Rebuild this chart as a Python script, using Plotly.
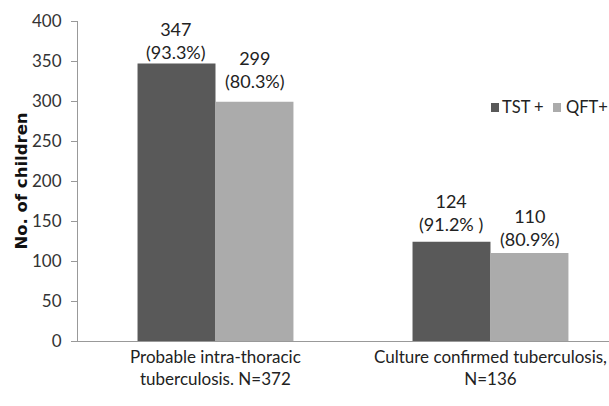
import plotly.graph_objects as go

categories = ["Probable intra-thoracic<br>tuberculosis. N=372", "Culture confirmed tuberculosis,<br>N=136"]
series_names = ["TST +", "QFT+"]
tst_values = [347, 124]
qft_values = [299, 110]
tst_labels = ["347<br>(93.3%)", "124<br>(91.2% )"]
qft_labels = ["299<br>(80.3%)", "110<br>(80.9%)"]
y_ticks = [0, 50, 100, 150, 200, 250, 300, 350, 400]

font_family = "Lato, 'Open Sans', sans-serif"
colors = ["#595959", "#ababab"]
x_pos = [0, 1]

fig = go.Figure()
fig.add_trace(go.Bar(x=x_pos, y=tst_values, name=series_names[0], marker_color=colors[0],
                     marker_line_width=0, showlegend=False))
fig.add_trace(go.Bar(x=x_pos, y=qft_values, name=series_names[1], marker_color=colors[1],
                     marker_line_width=0, showlegend=False))

# value labels above each bar (hand-offset like the original data labels)
bw = 0.284
label_shift = {0: (-2, 8), 1: (5, 1)}
for i, xv in enumerate(x_pos):
    s_tst, s_qft = label_shift[i]
    fig.add_annotation(x=xv - bw / 2, y=tst_values[i], text=tst_labels[i], showarrow=False,
                       yanchor="bottom", yshift=s_tst, font=dict(size=18, color="#222"))
    fig.add_annotation(x=xv + bw / 2, y=qft_values[i], text=qft_labels[i], showarrow=False,
                       yanchor="bottom", yshift=s_qft, font=dict(size=18, color="#222"))

# category labels under the axis
for xv, lab in zip(x_pos, categories):
    fig.add_annotation(x=xv, y=0, yref="y", text=lab, showarrow=False, yanchor="top",
                       yshift=-3, font=dict(size=17, color="#222"))

# divider tick between the two categories
fig.add_shape(type="line", x0=0.5, x1=0.5, y0=0, y1=-7, yref="y", xref="x",
              line=dict(color="#999", width=1))

# compact legend: small squares with labels (pixel positions converted to paper units)
plot_l, plot_w, plot_b, plot_h = 78, 531, 341, 320
legend_items = [(491, 499, 501, series_names[0]), (553, 561, 565, series_names[1])]
for (sx0, sx1, tx, name), col in zip(legend_items, colors):
    fig.add_shape(type="rect", xref="paper", yref="paper",
                  x0=(sx0 - plot_l) / plot_w, x1=(sx1 - plot_l) / plot_w,
                  y0=(plot_b - 112) / plot_h, y1=(plot_b - 103) / plot_h,
                  fillcolor=col, line=dict(width=0))
    fig.add_annotation(xref="paper", yref="paper", x=(tx - plot_l) / plot_w,
                       y=(plot_b - 107.5) / plot_h,
                       text=name, showarrow=False, xanchor="left", yanchor="middle",
                       font=dict(size=16.5, color="#222"), xshift=-1)

fig.update_layout(
    width=609, height=406,
    margin=dict(l=78, r=0, t=21, b=65),
    paper_bgcolor="white", plot_bgcolor="white",
    font=dict(family=font_family, size=16, color="#333"),
    barmode="group", bargap=0.433, bargroupgap=0,
    showlegend=False,
)
fig.update_xaxes(range=[-0.5, 1.431], showticklabels=False, ticks="",
                 showline=True, linecolor="#999", linewidth=1, showgrid=False,
                 zeroline=False, fixedrange=True)
fig.update_yaxes(range=[0, 400], tickvals=y_ticks, ticks="outside", ticklen=6,
                 tickcolor="#999", showline=True, linecolor="#999", linewidth=1,
                 showgrid=False, zeroline=False, ticklabelstandoff=6,
                 title=dict(text="<b>No. of children</b>",
                            font=dict(family="DejaVu Sans", size=16.5, color="#111"),
                            standoff=0),
                 tickfont=dict(size=17, color="#333"))

fig.write_html("out.html")
